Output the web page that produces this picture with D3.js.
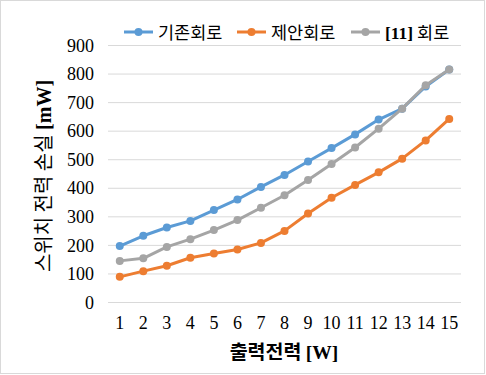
<!DOCTYPE html>
<html>
<head>
<meta charset="utf-8">
<script src="https://cdn.jsdelivr.net/npm/d3@7"></script>
<style>
body { margin: 0; background: #fff; }
svg { display: block; }
</style>
</head>
<body>
<svg id="chart"></svg>
<script>
// data
var categories = [1, 2, 3, 4, 5, 6, 7, 8, 9, 10, 11, 12, 13, 14, 15];
var existing = [196, 232, 261, 284, 322, 359, 403, 445, 492, 539, 587, 639, 677, 755, 814];
var proposed = [88, 108, 127, 155, 170, 184, 207, 249, 310, 365, 410, 454, 502, 566, 641];
var ref11 = [144, 153, 193, 220, 252, 287, 330, 374, 427, 483, 541, 607, 677, 759, 814];
var yTicks = [0, 100, 200, 300, 400, 500, 600, 700, 800, 900];

var series = [
    { name: '기존회로', values: existing, color: '#5b9bd5' },
    { name: '제안회로', values: proposed, color: '#ed7d31' },
    { name: '[11] 회로', values: ref11, color: '#a5a5a5' }
];

var w = 486,
    h = 375;

var svg = d3.select('#chart')
    .attr('width', w)
    .attr('height', h);

// outer border
svg.append('rect')
    .attr('x', 0.5).attr('y', 0.5)
    .attr('width', w - 2).attr('height', h - 2)
    .attr('fill', '#fff')
    .attr('stroke', '#d9d9d9');

var xScale = d3.scaleBand()
    .domain(categories)
    .range([108, 461]);
var yScale = d3.scaleLinear()
    .domain([0, 900])
    .range([302, 45]);

// gridlines
svg.append('g')
    .selectAll('line')
    .data(yTicks)
    .enter()
    .append('line')
    .attr('x1', 108)
    .attr('x2', 461)
    .attr('y1', function(d) { return yScale(d) + 0.5; })
    .attr('y2', function(d) { return yScale(d) + 0.5; })
    .attr('stroke', '#d9d9d9')
    .attr('stroke-width', 1);

// y axis labels
var yAxis = d3.axisLeft(yScale).tickValues(yTicks).tickSize(0).tickPadding(0);
var gy = svg.append('g')
    .attr('transform', 'translate(94,0)')
    .call(yAxis)
    .attr('font-family', '"Liberation Serif", serif')
    .attr('font-size', 18);
gy.select('.domain').remove();
gy.selectAll('text')
    .attr('dy', '0.34em')
    .attr('fill', '#000');

// x axis labels
var xAxis = d3.axisBottom(xScale).tickSize(0).tickPadding(0);
var gx = svg.append('g')
    .call(xAxis)
    .attr('font-family', '"Liberation Serif", serif')
    .attr('font-size', 18);
gx.select('.domain').remove();
gx.selectAll('text')
    .attr('y', 329)
    .attr('dy', 0)
    .attr('fill', '#000');

// lines + markers
var line = d3.line()
    .x(function(d, i) { return xScale(categories[i]) + xScale.bandwidth() / 2; })
    .y(function(d) { return yScale(d); });

series.forEach(function(s) {
    var g = svg.append('g');
    g.append('path')
        .datum(s.values)
        .attr('d', line)
        .attr('fill', 'none')
        .attr('stroke', s.color)
        .attr('stroke-width', 3)
        .attr('stroke-linejoin', 'round');
    g.selectAll('circle')
        .data(s.values)
        .enter()
        .append('circle')
        .attr('cx', function(d, i) { return xScale(categories[i]) + xScale.bandwidth() / 2; })
        .attr('cy', function(d) { return yScale(d); })
        .attr('r', 4)
        .attr('fill', s.color);
});

// legend
var legendX = [124, 237, 351];
var legend = svg.append('g');
series.forEach(function(s, i) {
    var lg = legend.append('g').attr('transform', 'translate(' + legendX[i] + ',32)');
    lg.append('line')
        .attr('x1', 0).attr('x2', 29)
        .attr('y1', 0).attr('y2', 0)
        .attr('stroke', s.color)
        .attr('stroke-width', 3);
    lg.append('circle')
        .attr('cx', 14.5).attr('cy', 0).attr('r', 4)
        .attr('fill', s.color);
    var t = lg.append('text')
        .attr('x', 34)
        .attr('y', 6.5)
        .attr('font-family', '"Noto Sans CJK KR", sans-serif')
        .attr('font-size', 17.5)
        .attr('fill', '#000');
    if (s.name.indexOf('[11]') === 0) {
        t.append('tspan')
            .attr('font-family', '"Liberation Serif", serif')
            .attr('font-weight', 'bold')
            .text('[11]');
        t.append('tspan').text(' 회로');
    } else {
        t.text(s.name);
    }
});

// y title
svg.append('text')
    .attr('transform', 'translate(51,176) rotate(-90)')
    .attr('text-anchor', 'middle')
    .attr('font-family', '"Noto Sans CJK KR", sans-serif')
    .attr('font-size', 20)
    .attr('fill', '#000')
    .text('스위치 전력 손실 ')
    .append('tspan')
    .attr('font-family', '"Liberation Serif", serif')
    .attr('font-weight', 'bold')
    .text('[mW]');

// x title
svg.append('text')
    .attr('x', 284)
    .attr('y', 359)
    .attr('text-anchor', 'middle')
    .attr('font-family', '"Noto Sans CJK KR", sans-serif')
    .attr('font-weight', 'bold')
    .attr('font-size', 19.5)
    .attr('fill', '#000')
    .text('출력전력 ')
    .append('tspan')
    .attr('font-family', '"Liberation Serif", serif')
    .attr('font-weight', 'bold')
    .text('[W]');
</script>
</body>
</html>
